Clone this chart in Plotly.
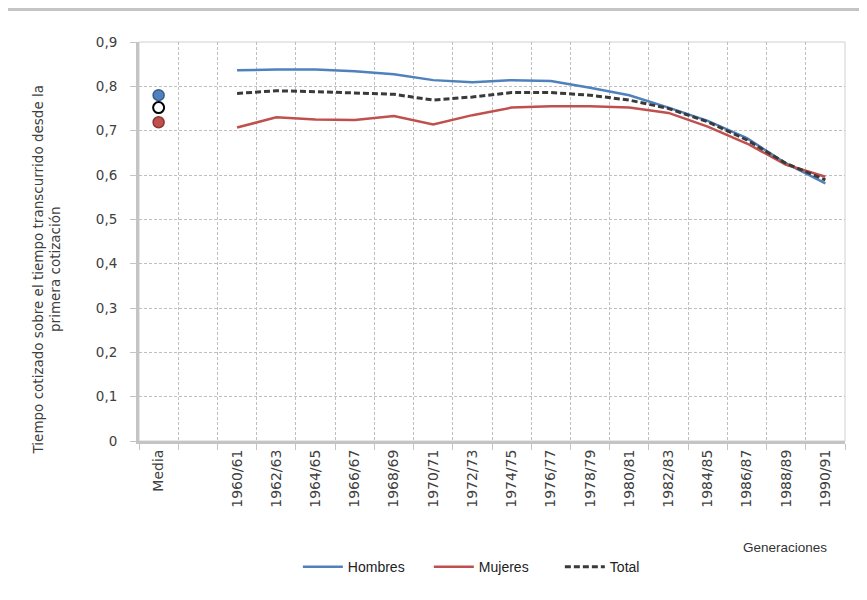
import plotly.graph_objects as go

# ---------------- data ----------------
generaciones = ["1960/61", "1962/63", "1964/65", "1966/67", "1968/69", "1970/71",
                "1972/73", "1974/75", "1976/77", "1978/79", "1980/81", "1982/83",
                "1984/85", "1986/87", "1988/89", "1990/91"]
categorias = ["Media", " "] + generaciones

hombres = [0.836, 0.838, 0.838, 0.834, 0.827, 0.814, 0.809, 0.814, 0.812, 0.797,
           0.780, 0.752, 0.722, 0.683, 0.626, 0.581]
mujeres = [0.707, 0.730, 0.725, 0.724, 0.733, 0.714, 0.735, 0.752, 0.755, 0.755,
           0.752, 0.740, 0.709, 0.671, 0.623, 0.596]
total = [0.784, 0.790, 0.788, 0.785, 0.782, 0.769, 0.776, 0.786, 0.786, 0.780,
         0.769, 0.750, 0.720, 0.679, 0.626, 0.589]

media_hombres = 0.780
media_total = 0.752
media_mujeres = 0.719

y_ticks = [0, 0.1, 0.2, 0.3, 0.4, 0.5, 0.6, 0.7, 0.8, 0.9]
y_ticktext = ["0", "0,1", "0,2", "0,3", "0,4", "0,5", "0,6", "0,7", "0,8", "0,9"]

# ---------------- style ----------------
BLUE = "#4F81BD"
RED = "#C0504D"
DARK = "#3A3A3A"
GRID = "#BFBFBF"
AXIS = "#C4C4C4"
TXT = "#404040"

fig = go.Figure()

# invisible trace so that every category (including the blank one) exists
fig.add_trace(go.Scatter(x=categorias, y=[None] * len(categorias), mode="lines",
                         showlegend=False, hoverinfo="skip"))

fig.add_trace(go.Scatter(x=generaciones, y=hombres, mode="lines", name="Hombres",
                         line=dict(color=BLUE, width=2.5)))
fig.add_trace(go.Scatter(x=generaciones, y=mujeres, mode="lines", name="Mujeres",
                         line=dict(color=RED, width=2.5)))
fig.add_trace(go.Scatter(x=generaciones, y=total, mode="lines", name="Total",
                         line=dict(color=DARK, width=3, dash="6px,3px")))

fig.add_trace(go.Scatter(x=["Media"], y=[media_hombres], mode="markers", showlegend=False,
                         marker=dict(size=11, color=BLUE, line=dict(color="#385D8A", width=1.5))))
fig.add_trace(go.Scatter(x=["Media"], y=[media_total], mode="markers", showlegend=False,
                         marker=dict(size=11, color="white", line=dict(color="black", width=2))))
fig.add_trace(go.Scatter(x=["Media"], y=[media_mujeres], mode="markers", showlegend=False,
                         marker=dict(size=11, color=RED, line=dict(color="#8C3836", width=1.5))))

fig.update_xaxes(
    type="category", categoryorder="array", categoryarray=categorias,
    range=[-0.5, len(categorias) - 0.5],
    tickson="boundaries", ticks="outside", ticklen=6, tickcolor=AXIS, tickwidth=1,
    tickangle=-90, tickfont=dict(family="DejaVu Sans", size=14, color=TXT),
    showgrid=True, gridcolor=GRID, gridwidth=1, griddash="3px,2px",
    showline=True, linecolor=AXIS, linewidth=3, zeroline=False,
)
fig.update_yaxes(
    range=[0, 0.9], tickvals=y_ticks, ticktext=y_ticktext,
    ticks="outside", ticklen=6, tickcolor=AXIS, tickwidth=1, ticklabelstandoff=10,
    tickfont=dict(family="DejaVu Sans", size=13.5, color=TXT),
    showgrid=True, gridcolor=GRID, gridwidth=1, griddash="3px,2px",
    showline=True, linecolor=AXIS, linewidth=3, zeroline=False,
)

fig.update_layout(
    width=867, height=600,
    margin=dict(l=131, r=30, t=34, b=167, pad=0),
    paper_bgcolor="white", plot_bgcolor="white",
    showlegend=True,
    legend=dict(orientation="h", x=0.225, xanchor="left", y=-0.316, yanchor="middle",
                font=dict(family="Liberation Sans, Arial", size=14, color="#222222"),
                itemwidth=40, entrywidth=76, tracegroupgap=0),
    annotations=[
        dict(text="Tiempo cotizado sobre el tiempo transcurrido desde la<br>primera cotización",
             xref="paper", yref="paper", x=-0.131, y=0.4286, textangle=-90,
             showarrow=False, xanchor="center", yanchor="middle",
             font=dict(family="DejaVu Sans", size=13.5, color=TXT)),
        dict(text="Generaciones", xref="paper", yref="paper", x=0.915, y=-0.268,
             showarrow=False, xanchor="center", yanchor="middle",
             font=dict(family="Liberation Sans, Arial", size=13.5, color="#333333")),
    ],
    shapes=[
        dict(type="rect", xref="paper", yref="paper", x0=0, x1=1, y0=0, y1=1,
             line=dict(color="#D0D0D0", width=1), layer="below"),
        dict(type="rect", xref="paper", yref="paper", x0=-0.2, x1=1.1,
             y0=1 + 31 / 399, y1=1 + 34 / 399, fillcolor="#C4C4C4", line=dict(width=0)),
    ],
)

fig.write_html("out.html")
